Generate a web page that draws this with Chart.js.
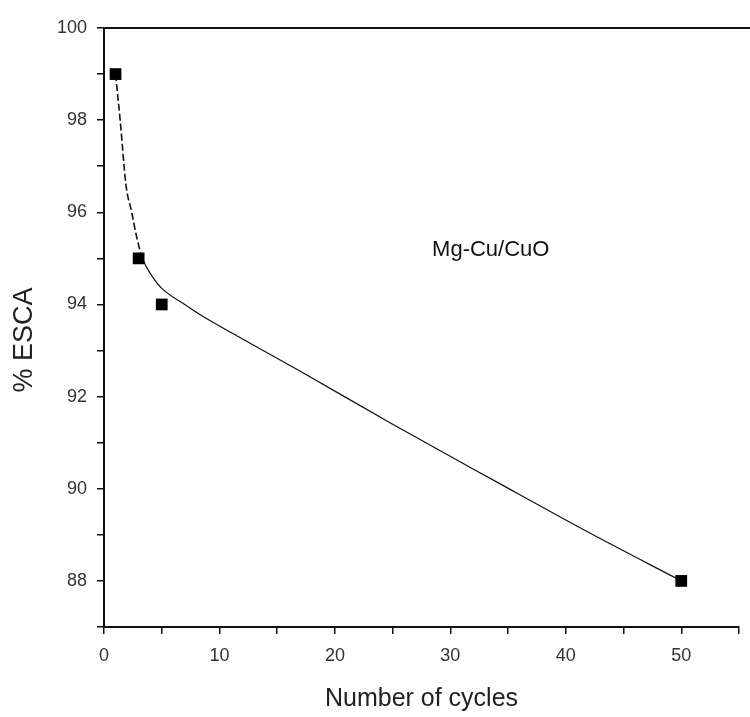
<!DOCTYPE html>
<html>
<head>
<meta charset="utf-8">
<title>% ESCA vs number of cycles</title>
<script src="https://cdn.jsdelivr.net/npm/chart.js@4/dist/chart.umd.min.js"></script>
<style>
  html, body { margin: 0; padding: 0; background: #fff; }
  #wrap { width: 750px; height: 717px; position: relative; }
</style>
</head>
<body>
<div id="wrap"><canvas id="esca-chart"></canvas></div>
<script>
'use strict';

/* measured points */
const cycles  = [1, 3, 5, 50];
const escaPct = [99, 95, 94, 88];

/* fitted curve, dashed up to the kink near 3 cycles */
const fitCycles = [1, 1.4, 1.9, 2.4, 2.8, 3.2, 3.6, 4.2, 5, 7, 8.2, 12, 17, 25, 34, 42, 50];
const fitEsca   = [99, 98, 96.6, 96.0, 95.5, 95.1, 94.85, 94.6, 94.35, 94.0, 93.8, 93.25, 92.55, 91.4, 90.15, 89.05, 88];
const dashEndX  = 3.2;

/* axis ticks */
const xLabelTicks = [0, 10, 20, 30, 40, 50];
const yLabelTicks = [88, 90, 92, 94, 96, 98, 100];

const sampleName = 'Mg-Cu/CuO';
const yTitle = '% ESCA';

(function () {
  const FONT = '"Liberation Sans", Arial, sans-serif';

  // top frame line, sample label and the y title (placed a bit below centre)
  const framePlugin = {
    id: 'frameAndLabel',
    afterDatasetsDraw(chart) {
      const { ctx, chartArea, scales } = chart;
      ctx.save();
      ctx.strokeStyle = '#111';
      ctx.lineWidth = 2;
      ctx.beginPath();
      ctx.moveTo(chartArea.left - 1, chartArea.top);
      ctx.lineTo(chart.width, chartArea.top);
      ctx.stroke();

      ctx.fillStyle = '#111';
      ctx.font = '22px ' + FONT;
      ctx.textAlign = 'center';
      ctx.textBaseline = 'middle';
      ctx.fillText(sampleName, scales.x.getPixelForValue(33.5), scales.y.getPixelForValue(95.18));

      ctx.translate(25, 340);
      ctx.rotate(-Math.PI / 2);
      ctx.fillStyle = '#222';
      ctx.font = '27px ' + FONT;
      ctx.fillText(yTitle, 0, 0);
      ctx.restore();
    }
  };

  const points = cycles.map((c, i) => ({ x: c, y: escaPct[i] }));
  const fit = fitCycles.map((c, i) => ({ x: c, y: fitEsca[i] }));

  new Chart(document.getElementById('esca-chart'), {
    type: 'scatter',
    data: {
      datasets: [
        {
          label: sampleName,
          data: points,
          pointStyle: 'rect',
          pointRadius: 8.3,
          pointHoverRadius: 8.3,
          backgroundColor: '#000',
          borderColor: '#000',
          borderWidth: 0,
          order: 0,
        },
        {
          label: 'fit',
          data: fit,
          showLine: true,
          pointRadius: 0,
          borderColor: '#111',
          borderWidth: 1.2,
          cubicInterpolationMode: 'monotone',
          segment: {
            borderDash: c => c.p1.parsed.x <= dashEndX ? [7, 3] : undefined,
            borderWidth: c => c.p1.parsed.x <= dashEndX ? 1.6 : 1.2,
          },
          order: 1,
        },
      ],
    },
    options: {
      responsive: true,
      maintainAspectRatio: false,
      animation: false,
      layout: { padding: { top: 28, right: 0, left: 0, bottom: 0 } },
      plugins: { legend: { display: false }, tooltip: { enabled: false } },
      scales: {
        x: {
          type: 'linear',
          min: 0, max: 55,
          afterFit: s => { s.height = 90; },
          afterBuildTicks: s => { s.ticks = Array.from({ length: 12 }, (_, i) => ({ value: i * 5 })); },
          border: { display: true, color: '#111', width: 2 },
          grid: { drawOnChartArea: false, drawTicks: true, tickLength: 7, color: '#111', lineWidth: 1.5 },
          ticks: {
            color: '#333', padding: 11,
            font: { family: FONT, size: 18 },
            maxRotation: 0, autoSkip: false,
            callback: v => xLabelTicks.includes(v) ? String(v) : '',
          },
          title: {
            display: true, text: 'Number of cycles', color: '#222',
            font: { family: FONT, size: 25 },
            padding: { top: 0, bottom: 3 },
          },
        },
        y: {
          type: 'linear',
          min: 87, max: 100,
          afterFit: s => { s.width = 104; },
          afterBuildTicks: s => { s.ticks = Array.from({ length: 14 }, (_, i) => ({ value: 87 + i })); },
          border: { display: true, color: '#111', width: 2 },
          grid: { drawOnChartArea: false, drawTicks: true, tickLength: 7, color: '#111', lineWidth: 1.5 },
          ticks: {
            color: '#333', padding: 10,
            font: { family: FONT, size: 18 },
            autoSkip: false,
            callback: v => yLabelTicks.includes(v) ? String(v) : '',
          },
          title: { display: false },
        },
      },
    },
    plugins: [framePlugin],
  });
})();
</script>
</body>
</html>
